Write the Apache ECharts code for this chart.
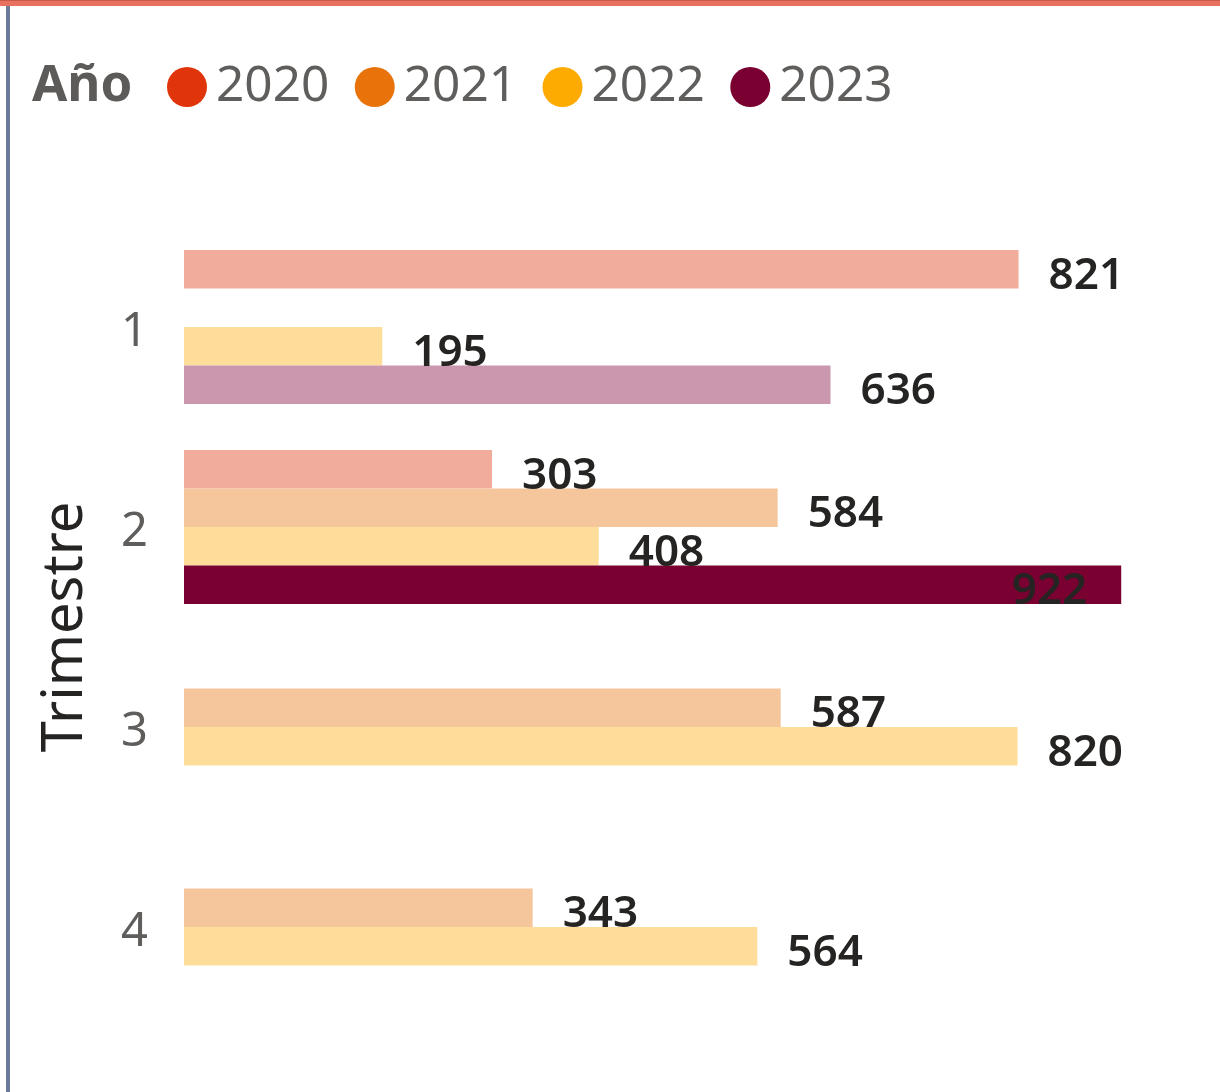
<!DOCTYPE html>
<html>
<head>
<meta charset="utf-8">
<script src="https://cdn.jsdelivr.net/npm/echarts@6/dist/echarts.min.js"></script>
<style>
  html, body { margin: 0; padding: 0; background: #fff; }
  #chart { width: 1220px; height: 1092px; }
</style>
</head>
<body>
<div id="chart"></div>
<script>
// trimestres y años
var trimestres = ["1", "2", "3", "4"];
var anios = ["2020", "2021", "2022", "2023"];
var colores = ["#E0340A", "#E8730A", "#FDAB00", "#7B0032"];
// colores atenuados (no seleccionados)
var coloresTenues = ["#F2AC9C", "#F5C69C", "#FEDC9A", "#CA97AE"];

// valores por año (null = sin dato)
var v2020 = [821, 303, null, null];
var v2021 = [null, 584, 587, 343];
var v2022 = [195, 408, 820, 564];
var v2023 = [636, 922, null, null];
var valores = [v2020, v2021, v2022, v2023];

// punto seleccionado (año 2023, trimestre 2)
var selSerie = 3;
var selIndex = 1;

var myChart = echarts.init(document.getElementById("chart"));

var series = anios.map(function (anio, s) {
  return {
    name: anio,
    type: "bar",
    barGap: "0%",
    barCategoryGap: "23%",
    itemStyle: { color: colores[s] },
    label: {
      show: true,
      position: "right",
      distance: 30,
      offset: [0, 7],
      color: "#252423",
      fontSize: 44,
      fontWeight: 600,
      fontFamily: "Noto Sans"
    },
    data: valores[s].map(function (v, i) {
      if (v === null) return null;
      if (s === selSerie && i === selIndex) {
        return {
          value: v,
          label: { position: "insideRight", distance: 34 }
        };
      }
      return { value: v, itemStyle: { color: coloresTenues[s] } };
    })
  };
});

myChart.setOption({
  animation: false,
  title: {
    text: "Año",
    left: 27,
    top: 56,
    textStyle: {
      fontFamily: "Noto Sans",
      fontSize: 51,
      fontWeight: "bold",
      color: "#5C5B59"
    }
  },
  legend: {
    left: 162,
    top: 57,
    icon: "circle",
    itemWidth: 40,
    itemHeight: 40,
    itemGap: 25.5,
    textStyle: {
      fontFamily: "Noto Sans",
      fontSize: 49.5,
      color: "#605E5C",
      padding: [0, 0, 0, 4]
    },
    data: anios
  },
  grid: {
    left: 184,
    top: 227,
    width: 1016.5,
    bottom: 65,
    containLabel: false
  },
  xAxis: {
    type: "value",
    min: 0,
    max: 1000,
    show: false
  },
  yAxis: {
    type: "category",
    inverse: true,
    data: trimestres,
    axisLine: { show: false },
    axisTick: { show: false },
    axisLabel: {
      margin: 36,
      formatter: "{a|{value}}",
      rich: {
        a: {
          padding: [12, 0, 0, 0],
          fontFamily: "Noto Sans",
          fontSize: 47,
          color: "#605E5C"
        }
      }
    },
    name: "Trimestre",
    nameLocation: "middle",
    nameRotate: 90,
    nameGap: 90,
    nameTextStyle: {
      fontFamily: "Noto Sans",
      fontSize: 56,
      color: "#252423"
    }
  },
  graphic: [
    { type: "rect", shape: { x: 0, y: 0, width: 1220, height: 6 }, style: { fill: "#E8705E" } },
    { type: "rect", shape: { x: 0, y: 0, width: 1220, height: 1 }, style: { fill: "#C85A4A" } },
    { type: "rect", shape: { x: 6, y: 6, width: 4, height: 1086 }, style: { fill: "#6B7A99" } }
  ],
  series: series
});
</script>
</body>
</html>
